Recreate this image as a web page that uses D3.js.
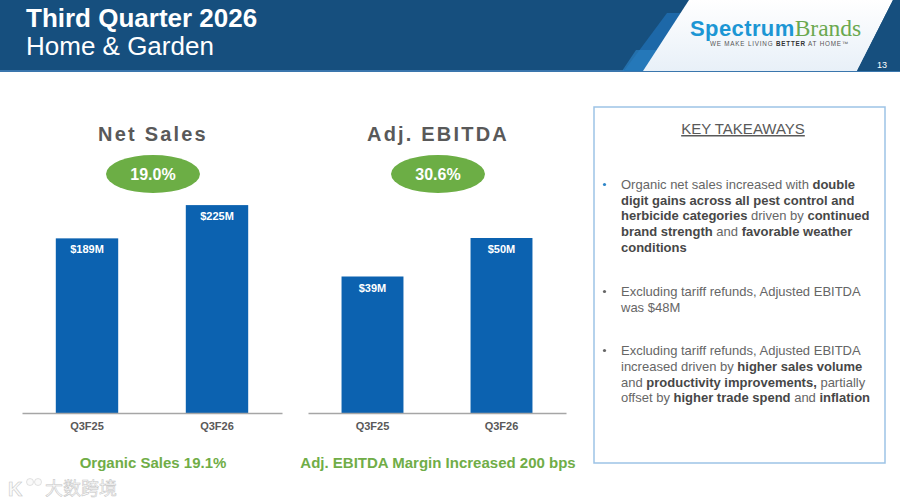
<!DOCTYPE html>
<html>
<head>
<meta charset="utf-8">
<script src="https://cdn.jsdelivr.net/npm/d3@7"></script>
<style>
  html, body { margin: 0; padding: 0; background: #fff; }
  svg { display: block; font-family: "Liberation Sans", Arial, sans-serif; }
</style>
</head>
<body>
<svg id="slide" width="900" height="504"></svg>
<script>
// 데이터
var categories = ["Q3F25", "Q3F26"];
var netSales = [189, 225];
var adjEbitda = [39, 50];
var growthLabels = ["19.0%", "30.6%"];
var chartTitles = ["Net Sales", "Adj. EBITDA"];
var footnotes = ["Organic Sales 19.1%", "Adj. EBITDA Margin Increased 200 bps"];
var takeaways = [
  [["Organic net sales increased with ", 0], ["double", 1]],
  [["digit gains across all pest control and", 1]],
  [["herbicide categories", 1], [" driven by ", 0], ["continued", 1]],
  [["brand strength", 1], [" and ", 0], ["favorable weather", 1]],
  [["conditions", 1]],
  null,
  [["Excluding tariff refunds, Adjusted EBITDA", 0]],
  [["was $48M", 0]],
  null,
  [["Excluding tariff refunds, Adjusted EBITDA", 0]],
  [["increased driven by ", 0], ["higher sales volume", 1]],
  [["and ", 0], ["productivity improvements,", 1], [" partially", 0]],
  [["offset by ", 0], ["higher trade spend", 1], [" and ", 0], ["inflation", 1]]
];

var svg = d3.select("#slide");
var blue = "#0c62b0";
var green = "#6cae45";
var gray = "#595959";

// 헤더
svg.append("rect").attr("x", 0).attr("y", 0).attr("width", 900).attr("height", 71).attr("fill", "#164f7e");
svg.append("rect").attr("x", 0).attr("y", 70).attr("width", 900).attr("height", 2).attr("fill", "#3a76ad");
svg.append("polygon").attr("points", "667,13 692,13 650,71 624,71").attr("fill", "#1d68a8");
svg.append("polygon").attr("points", "636,50 660,50 645,71 622,71").attr("fill", "#2a7fc0").attr("opacity", 0.7);

var grad = svg.append("defs").append("linearGradient").attr("id", "panel")
  .attr("x1", "0").attr("y1", "0").attr("x2", "0").attr("y2", "1");
grad.append("stop").attr("offset", "0").attr("stop-color", "#ffffff");
grad.append("stop").attr("offset", "1").attr("stop-color", "#e8f0f8");
svg.append("polygon").attr("points", "689,0 893,0 857,71 643,71").attr("fill", "url(#panel)");
svg.append("polygon").attr("points", "893,0 900,0 900,71 857,71").attr("fill", "#164f7e");
svg.append("text").attr("x", 887).attr("y", 68).attr("text-anchor", "end")
  .attr("fill", "#fff").attr("font-size", 9).text("13");

var logo = svg.append("text").attr("x", 690).attr("y", 36);
logo.append("tspan").attr("fill", "#1c96d4").attr("font-weight", "bold").attr("font-size", 22)
  .attr("letter-spacing", 0.4).text("Spectrum");
logo.append("tspan").attr("fill", "#6aa84f").attr("font-family", "Liberation Serif, serif")
  .attr("font-size", 23.5).text("Brands");
var tag = svg.append("text").attr("x", 710).attr("y", 46).attr("font-size", 6.3)
  .attr("letter-spacing", 0.8).attr("fill", "#555");
tag.append("tspan").text("WE MAKE LIVING ");
tag.append("tspan").attr("font-weight", "bold").attr("fill", "#333").text("BETTER");
tag.append("tspan").text(" AT HOME\u2122");

svg.append("text").attr("x", 26).attr("y", 27).attr("fill", "#fff").attr("font-weight", "bold")
  .attr("font-size", 26).text("Third Quarter 2026");
svg.append("text").attr("x", 26).attr("y", 55).attr("fill", "#fff")
  .attr("font-size", 26).text("Home & Garden");

// 막대 차트 그리기
function drawChart(values, xRange, yMax, yTop, idx) {
  var x = d3.scaleBand().domain(categories).range(xRange).paddingInner(0.52).paddingOuter(0.26);
  var y = d3.scaleLinear().domain([0, yMax]).range([413, yTop]);
  var cx = (xRange[0] + xRange[1]) / 2 + 1;
  var g = svg.append("g");

  g.append("text").attr("x", cx).attr("y", 141).attr("text-anchor", "middle")
    .attr("font-size", 20).attr("font-weight", "bold").attr("letter-spacing", 2.2)
    .attr("fill", gray).text(chartTitles[idx]);
  g.append("ellipse").attr("cx", cx).attr("cy", 174).attr("rx", 47).attr("ry", 19).attr("fill", green);
  g.append("text").attr("x", cx).attr("y", 180).attr("text-anchor", "middle")
    .attr("font-size", 16).attr("font-weight", "bold").attr("fill", "#fff").text(growthLabels[idx]);

  g.selectAll("rect.bar").data(values).enter().append("rect")
    .attr("class", "bar")
    .attr("x", function(d, i) { return x(categories[i]); })
    .attr("y", function(d) { return y(d); })
    .attr("width", x.bandwidth())
    .attr("height", function(d) { return y(0) - y(d); })
    .attr("fill", blue);
  g.selectAll("text.val").data(values).enter().append("text")
    .attr("class", "val")
    .attr("x", function(d, i) { return x(categories[i]) + x.bandwidth() / 2; })
    .attr("y", function(d) { return y(d) + 15; })
    .attr("text-anchor", "middle").attr("font-size", 11).attr("font-weight", "bold")
    .attr("fill", "#fff").text(function(d) { return "$" + d + "M"; });

  var ax = g.append("g").attr("transform", "translate(0,413)")
    .call(d3.axisBottom(x).tickSize(0).tickPadding(9));
  ax.select(".domain").attr("stroke", "#a6a6a6").attr("stroke-width", 1.5);
  ax.selectAll("text").attr("font-size", 11).attr("font-weight", "bold")
    .attr("fill", gray).attr("font-family", "Liberation Sans, Arial, sans-serif");

  g.append("text").attr("x", cx).attr("y", 468).attr("text-anchor", "middle")
    .attr("font-size", 15).attr("font-weight", "bold").attr("fill", "#70ad47").text(footnotes[idx]);
}
drawChart(netSales, [22, 282], 250, 182, 0);
drawChart(adjEbitda, [308, 566], 50, 238, 1);

// 핵심 요약 박스
svg.append("rect").attr("x", 594).attr("y", 107).attr("width", 291).attr("height", 356)
  .attr("fill", "#fff").attr("stroke", "#9dc3e6").attr("stroke-width", 1.5);
svg.append("text").attr("x", 743).attr("y", 134).attr("text-anchor", "middle")
  .attr("font-size", 15).attr("fill", gray).attr("text-decoration", "underline").text("KEY TAKEAWAYS");

var lineY = [189, 204.5, 220, 236, 252, 0, 296, 311.5, 0, 355, 371, 386.5, 402];
var bulletAt = [0, 6, 9];
takeaways.forEach(function(line, i) {
  if (!line) return;
  var t = svg.append("text").attr("x", 621).attr("y", lineY[i]).attr("font-size", 13);
  line.forEach(function(seg) {
    t.append("tspan").attr("font-weight", seg[1] ? "bold" : "normal")
      .attr("fill", seg[1] ? "#474747" : "#666").text(seg[0]);
  });
  if (bulletAt.indexOf(i) >= 0) {
    svg.append("circle").attr("cx", 604.5).attr("cy", lineY[i] - 4.5).attr("r", 1.6)
      .attr("fill", i === 0 ? "#2e86c8" : "#666");
  }
});

// 워터마크
var wm = svg.append("g").attr("fill", "#fafafa").attr("stroke", "#c4c4c4").attr("stroke-width", 0.5);
wm.append("text").attr("x", 8).attr("y", 496).attr("font-size", 20).attr("font-weight", "bold").text("K");
wm.append("circle").attr("cx", 30).attr("cy", 482).attr("r", 3.5);
wm.append("circle").attr("cx", 38).attr("cy", 482).attr("r", 3.5);
wm.append("text").attr("x", 45).attr("y", 495).attr("font-size", 18)
  .attr("font-family", "Noto Sans CJK SC").text("大数跨境");
</script>
</body>
</html>
